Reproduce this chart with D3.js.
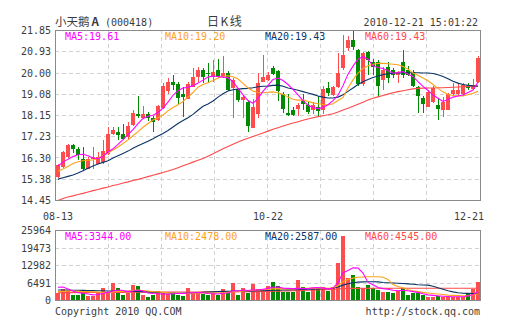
<!DOCTYPE html>
<html>
<head>
<meta charset="utf-8">
<script src="https://cdn.jsdelivr.net/npm/d3@7"></script>
<style>
  body { margin: 0; background: #fff; }
  svg { display: block; }
</style>
</head>
<body>
<svg id="chart" width="505" height="330"></svg>
<script>
// ---- trading days (2010-08-13 .. 2010-12-21) ----
const dates = [
  "08-13","08-16","08-17","08-18","08-19","08-20","08-23","08-24","08-25","08-26",
  "08-27","08-30","08-31","09-01","09-02","09-03","09-06","09-07","09-08","09-09",
  "09-10","09-13","09-14","09-15","09-16","09-17","09-20","09-21","09-27","09-28",
  "09-29","09-30","10-08","10-11","10-12","10-13","10-14","10-15","10-18","10-19",
  "10-20","10-21","10-22","10-25","10-26","10-27","10-28","10-29","11-01","11-02",
  "11-03","11-04","11-05","11-08","11-09","11-10","11-11","11-12","11-15","11-16",
  "11-17","11-18","11-19","11-22","11-23","11-24","11-25","11-26","11-29","11-30",
  "12-01","12-02","12-03","12-06","12-07","12-08","12-09","12-10","12-13","12-14",
  "12-15","12-16","12-17","12-20","12-21"
];

// ---- daily prices ----
const open = [
  15.47,15.92,16.34,16.85,16.71,16.27,15.83,16.27,16.05,16.12,
  16.49,17.36,17.43,17.36,17.20,17.73,18.20,18.02,18.21,18.06,
  17.94,18.47,19.20,19.62,19.50,19.07,18.89,19.40,19.84,20.13,
  20.02,19.84,20.13,19.88,19.99,19.33,19.30,18.82,18.75,17.62,
  18.20,19.62,19.69,20.20,20.10,19.10,18.27,18.38,18.42,18.78,
  18.62,18.38,18.53,18.38,19.36,19.03,19.38,20.20,21.10,21.44,
  21.00,19.52,20.90,20.49,20.50,19.69,20.27,20.13,19.91,20.49,
  20.13,20.06,19.40,18.93,18.53,18.75,18.60,18.38,18.41,19.08,
  19.08,19.08,19.43,19.29,19.62
];
const high = [
  16.02,16.60,16.93,16.93,16.78,16.78,16.34,16.78,16.56,17.10,
  17.65,17.65,17.65,17.80,17.85,18.38,19.00,18.56,18.30,18.15,
  18.60,19.55,19.80,19.90,19.60,19.40,19.60,20.23,20.27,20.20,
  20.42,20.57,20.60,20.73,20.10,19.80,19.35,19.05,18.82,18.85,
  19.99,20.78,20.05,20.30,20.13,19.18,19.08,18.50,18.68,19.10,
  18.72,18.75,19.00,19.45,19.60,19.45,20.86,21.66,21.60,21.85,
  21.05,20.93,20.95,20.60,20.55,20.27,20.50,20.20,20.10,21.00,
  20.30,20.13,19.45,19.00,19.25,19.45,18.90,18.96,19.12,19.55,
  19.57,19.55,19.55,19.75,20.75
];
const low = [
  15.41,15.88,16.30,16.50,16.20,15.76,15.80,15.80,16.05,16.05,
  16.45,17.30,17.07,17.10,17.10,17.70,18.02,17.98,17.90,17.43,
  17.90,18.45,19.10,19.26,18.67,18.09,18.85,19.38,19.60,19.55,
  19.62,19.60,19.80,19.80,19.20,18.05,18.75,18.05,17.43,17.60,
  18.06,19.60,19.65,19.90,18.80,18.24,18.15,18.15,18.15,18.40,
  18.20,18.20,18.15,18.20,18.98,18.98,19.36,20.15,20.95,21.00,
  19.45,19.45,19.91,19.90,18.96,19.26,19.55,19.80,19.55,19.80,
  19.85,19.40,18.27,18.24,18.50,18.70,17.97,18.09,18.38,19.00,
  19.00,19.00,19.25,19.25,19.55
];
const close = [
  15.98,16.54,16.85,16.71,16.41,15.83,16.27,16.34,16.34,16.60,
  17.36,17.53,17.29,17.14,17.70,18.24,18.13,18.21,18.02,17.87,
  18.56,19.45,19.62,19.47,18.92,18.96,19.50,19.84,20.13,19.84,
  19.96,20.06,19.84,20.00,19.26,19.70,18.82,18.96,17.70,18.53,
  19.55,19.84,19.91,19.96,19.20,18.45,18.18,18.18,18.60,18.66,
  18.30,18.60,18.33,19.31,19.11,19.40,20.00,20.80,21.44,21.15,
  19.52,20.85,20.57,20.25,19.45,20.13,19.77,19.91,20.06,19.91,
  19.91,19.43,18.99,18.67,19.18,19.33,18.45,18.75,19.08,19.26,
  19.26,19.47,19.33,19.47,20.64
];

// ---- price moving averages ----
const ma5 = [
  15.95,16.12,16.25,16.36,16.44,16.46,16.40,16.30,16.27,16.38,
  16.56,16.70,16.89,17.10,17.32,17.54,17.80,18.02,18.12,18.16,
  18.28,18.47,18.73,19.03,19.23,19.35,19.38,19.45,19.56,19.69,
  19.82,19.87,19.85,19.82,19.79,19.62,19.33,19.05,18.80,18.68,
  18.90,19.20,19.46,19.72,19.78,19.67,19.50,19.29,19.05,18.80,
  18.60,18.50,18.45,18.50,18.62,18.80,19.03,19.45,19.95,20.30,
  20.60,20.71,20.60,20.30,20.24,20.20,20.10,19.99,20.02,20.06,
  19.95,19.85,19.62,19.42,19.24,19.04,18.90,18.76,18.85,18.95,
  19.00,19.04,19.15,19.26,19.61
];
const ma10 = [
  15.72,15.82,15.93,16.06,16.14,16.18,16.20,16.22,16.29,16.40,
  16.52,16.65,16.78,16.93,17.09,17.27,17.45,17.64,17.80,17.95,
  18.05,18.17,18.35,18.50,18.62,18.76,18.95,19.15,19.38,19.50,
  19.58,19.67,19.78,19.85,19.88,19.84,19.74,19.55,19.35,19.22,
  19.15,19.14,19.16,19.18,19.14,19.07,18.95,18.86,18.82,18.82,
  18.77,18.70,18.66,18.63,18.61,18.66,18.80,18.94,19.35,19.70,
  20.00,20.20,20.32,20.38,20.42,20.42,20.40,20.38,20.36,20.28,
  20.17,20.00,19.90,19.78,19.66,19.50,19.33,19.18,19.06,19.02,
  19.00,19.00,19.05,19.12,19.20
];
const ma20 = [
  15.38,15.44,15.50,15.56,15.65,15.75,15.85,15.95,16.04,16.11,
  16.18,16.30,16.40,16.50,16.60,16.72,16.83,16.93,17.03,17.14,
  17.26,17.37,17.50,17.65,17.80,17.93,18.05,18.20,18.38,18.55,
  18.65,18.78,18.95,19.10,19.22,19.27,19.30,19.32,19.33,19.36,
  19.40,19.42,19.43,19.46,19.47,19.42,19.35,19.30,19.25,19.19,
  19.13,19.07,19.00,18.95,18.91,18.91,18.95,19.05,19.20,19.35,
  19.50,19.62,19.72,19.80,19.87,19.93,19.97,19.99,20.00,20.01,
  20.01,20.01,20.01,20.00,20.00,19.98,19.92,19.85,19.75,19.64,
  19.56,19.50,19.46,19.44,19.43
];
const ma60 = [
  14.45,14.54,14.60,14.65,14.71,14.76,14.82,14.88,14.93,14.99,
  15.04,15.10,15.15,15.21,15.26,15.32,15.37,15.43,15.49,15.55,
  15.61,15.67,15.73,15.80,15.88,15.96,16.04,16.12,16.20,16.28,
  16.38,16.48,16.59,16.70,16.80,16.90,17.00,17.08,17.16,17.24,
  17.31,17.39,17.47,17.55,17.62,17.69,17.76,17.82,17.88,17.94,
  18.00,18.05,18.10,18.14,18.18,18.23,18.30,18.39,18.47,18.55,
  18.64,18.73,18.82,18.90,18.96,19.02,19.08,19.14,19.19,19.23,
  19.27,19.31,19.33,19.34,19.35,19.35,19.36,19.36,19.37,19.38,
  19.39,19.40,19.41,19.42,19.43
];

// ---- daily volume (hands) ----
const volume = [
  2660,4140,3500,2030,2030,2890,1780,1780,2660,4510,
  2660,6360,4510,2030,2660,5620,5370,2030,1410,2030,
  3500,2660,2400,2400,2030,1660,4510,2660,2660,2400,
  2030,2660,2030,4140,2660,6590,2030,4510,2890,6100,
  4140,3260,5370,6960,5370,3260,3260,3260,7580,4880,
  3260,4510,4510,5110,3630,5110,13760,23870,8500,9430,
  5110,4510,5740,4510,3880,3260,3260,2660,3500,4510,
  2030,2660,2660,2030,1410,1410,1660,1410,1410,1410,
  1410,1180,2890,4140,6960
];
const vma5 = [
  4900,5000,4300,3500,2900,2700,2400,2100,2200,2600,
  3000,3500,3900,3700,3300,3500,3900,3500,2800,2600,
  2500,2400,2300,2500,2600,2600,2800,2900,2900,2900,
  2600,2500,2400,2700,2800,3600,3500,3900,3700,4000,
  3900,4200,4500,4900,5000,4600,4500,4400,4500,4400,
  4400,4700,4800,4600,4300,4600,6600,10300,11100,12100,
  12000,10200,6700,5800,4800,4400,4200,3800,3600,3800,
  3600,3300,3000,2500,2100,1900,1700,1600,1500,1400,
  1400,1400,1700,2200,3344
];
const vma10 = [
  3300,3400,3500,3500,3400,3300,3300,3200,3100,3000,
  2900,3200,3400,3400,3500,3700,3900,3700,3500,3300,
  3200,3000,2900,2800,2700,2600,2700,2700,2700,2800,
  2800,2800,2800,2900,3000,3300,3300,3500,3600,3800,
  3900,4000,4100,4300,4400,4300,4300,4300,4400,4500,
  4500,4600,4600,4600,4500,4700,5500,7000,7800,8300,
  8600,8700,8800,8800,8800,8600,7800,5900,5200,4700,
  4000,3600,3300,3000,2800,2600,2400,2200,2000,1900,
  1800,1700,1800,2100,2478
];
const vma20 = [
  3900,3900,3850,3800,3800,3750,3700,3650,3600,3600,
  3550,3500,3500,3450,3400,3400,3350,3300,3200,3100,
  3000,2900,2800,2750,2700,2700,2750,2800,2900,3000,
  3100,3200,3300,3400,3450,3500,3500,3500,3500,3550,
  3600,3650,3700,3800,3850,3900,3950,4000,4050,4100,
  4150,4200,4300,4400,4450,4550,5000,5700,6200,6600,
  6800,6900,6950,6950,6900,6700,6600,6500,6400,6300,
  6150,6000,5850,5750,5700,5300,4700,4200,3600,3200,
  2900,2700,2650,2600,2587
];
const vma60 = [
  2900,2905,2920,2925,2940,2950,2955,2970,2980,2985,
  3000,3010,3015,3030,3040,3045,3060,3070,3075,3090,
  3100,3110,3115,3130,3140,3150,3155,3170,3180,3190,
  3200,3205,3220,3230,3235,3250,3260,3265,3280,3290,
  3300,3340,3385,3420,3460,3500,3560,3615,3680,3740,
  3800,3860,3915,3980,4040,4100,4250,4400,4450,4500,
  4510,4520,4515,4520,4525,4520,4515,4520,4525,4520,
  4530,4525,4530,4535,4530,4540,4535,4540,4540,4545,
  4540,4545,4545,4545,4545
];

// ---- axis ticks and legends ----
const priceTicks = ["14.45","15.38","16.30","17.23","18.15","19.08","20.00","20.93","21.85"];
const volumeTicks = ["0","6491","12982","19473","25964"];
const dateTicks = ["08-13","10-22","12-21"];
const maNames = ["MA5","MA10","MA20","MA60"];
const priceMaLast = ["19.61","19.20","19.43","19.43"];
const volumeMaLast = ["3344.00","2478.00","2587.00","4545.00"];

// ---- styling ----
const MONO = "'DejaVu Sans Mono', 'Liberation Mono', monospace";
const CJK = "'Noto Sans CJK SC', 'Noto Sans', sans-serif";
const TEXT = "#3c3c3c";
const FRAME = "#8a8a8a";
const GRID = "#d2d2d2";
const UP = "#ff4d4d";
const DOWN = "#008a00";
const maColors = ["#ff00ff", "#ffa21a", "#0b3466", "#ff4a4a"];

const svg = d3.select("#chart");
svg.append("rect").attr("width", 505).attr("height", 330).attr("fill", "#fff");

const L = 55, R = 480;
const P = { top: 30, bottom: 200 };
const V = { top: 230, bottom: 300 };

const x = d3.scaleBand().domain(dates).range([L, R]).padding(0);
const cx = d => x(d) + 3;
const yP = d3.scaleLinear().domain([+priceTicks[0], +priceTicks[priceTicks.length - 1]]).range([P.bottom + 0.5, P.top + 0.5]);
const yV = d3.scaleLinear().domain([0, +volumeTicks[volumeTicks.length - 1]]).range([V.bottom + 0.5, V.top + 0.5]);

const crisp = v => Math.round(v - 0.5) + 0.5;

// ---- header ----
const head = svg.append("g").attr("fill", TEXT);
const title = head.append("text").attr("x", L).attr("y", 25.5)
  .attr("font-family", CJK).attr("font-size", 11.5);
title.append("tspan").text("小天鹅");
title.append("tspan").attr("font-weight", "bold").attr("dx", 2).text("A");
head.append("text").attr("x", 105).attr("y", 25.5).attr("font-family", MONO)
  .attr("font-size", 10).text("(000418)");
head.append("text").attr("x", 207).attr("y", 25.5).attr("font-family", CJK)
  .attr("font-size", 12).attr("letter-spacing", 1.5).text("日K线");
head.append("text").attr("x", 478).attr("y", 25.5).attr("text-anchor", "end")
  .attr("font-family", MONO).attr("font-size", 10).text("2010-12-21 15:01:22");

// ---- panel frames and grids ----
function panel(top, bottom, ticks, scale) {
  const g = svg.append("g");
  const grid = g.append("g").attr("stroke", GRID).attr("stroke-width", 1)
    .attr("stroke-dasharray", "4,3").attr("shape-rendering", "crispEdges");
  ticks.slice(1, -1).forEach(t => {
    const yy = crisp(scale(+t));
    grid.append("line").attr("x1", L).attr("x2", R).attr("y1", yy).attr("y2", yy);
  });
  for (let k = 1; k < 8; k++) {
    const xx = crisp(L + k * (R - L) / 8);
    grid.append("line").attr("x1", xx).attr("x2", xx).attr("y1", top).attr("y2", bottom);
  }
  g.append("g").attr("fill", TEXT).attr("font-family", MONO).attr("font-size", 10)
    .attr("text-anchor", "end")
    .selectAll("text").data(ticks).join("text")
    .attr("x", 51).attr("y", t => scale(+t)).attr("dy", "0.36em").text(t => t);
  return g;
}
panel(P.top, P.bottom, priceTicks, yP);
panel(V.top, V.bottom, volumeTicks, yV);

// ---- candlesticks ----
const candles = svg.append("g").attr("shape-rendering", "crispEdges");
dates.forEach((d, i) => {
  const col = close[i] >= open[i] ? UP : DOWN;
  const xb = x(d);
  candles.append("rect").attr("x", xb + 2.5).attr("width", 1)
    .attr("y", yP(high[i])).attr("height", Math.max(1, yP(low[i]) - yP(high[i])))
    .attr("fill", col);
  const top = yP(Math.max(open[i], close[i]));
  const bot = yP(Math.min(open[i], close[i]));
  candles.append("rect").attr("x", xb + 1).attr("width", 4)
    .attr("y", top).attr("height", Math.max(1, bot - top)).attr("fill", col);
});

// ---- volume bars ----
const bars = svg.append("g").attr("shape-rendering", "crispEdges");
dates.forEach((d, i) => {
  bars.append("rect").attr("x", x(d) + 1).attr("width", 4)
    .attr("y", yV(volume[i])).attr("height", yV(0) - yV(volume[i]))
    .attr("fill", close[i] >= open[i] ? UP : DOWN);
});

// ---- moving-average lines ----
function maLine(values, scale, color) {
  const line = d3.line().x((v, i) => cx(dates[i])).y(v => scale(v));
  svg.append("path").attr("d", line(values)).attr("fill", "none")
    .attr("stroke", color).attr("stroke-width", 1.1);
}
[ma60, ma20, ma10, ma5].forEach((s, k) => maLine(s, yP, maColors[3 - k]));
[vma60, vma20, vma10, vma5].forEach((s, k) => maLine(s, yV, maColors[3 - k]));

// ---- frames on top ----
[[P.top, P.bottom], [V.top, V.bottom]].forEach(([t, b]) => {
  svg.append("rect").attr("x", L + 0.5).attr("y", t + 0.5)
    .attr("width", R - L).attr("height", b - t)
    .attr("fill", "none").attr("stroke", FRAME).attr("stroke-width", 1)
    .attr("shape-rendering", "crispEdges");
});

// ---- legends ----
function legend(yBase, vals) {
  svg.append("g").attr("font-family", MONO).attr("font-size", 10)
    .selectAll("text").data(maNames).join("text")
    .attr("x", (n, k) => 65 + k * 100).attr("y", yBase)
    .attr("fill", (n, k) => maColors[k])
    .text((n, k) => n + ":" + vals[k]);
}
legend(40, priceMaLast);
legend(240, volumeMaLast);

// ---- date axis ----
svg.append("g").attr("font-family", MONO).attr("font-size", 10).attr("fill", TEXT)
  .selectAll("text").data(dateTicks).join("text")
  .attr("x", d => Math.min(cx(d), R - 11))
  .attr("y", 220).attr("text-anchor", "middle").text(d => d);

// ---- footer ----
svg.append("text").attr("x", L).attr("y", 315).attr("font-family", MONO)
  .attr("font-size", 10).attr("fill", TEXT).text("Copyright 2010 QQ.COM");
svg.append("text").attr("x", R).attr("y", 315).attr("text-anchor", "end")
  .attr("font-family", MONO).attr("font-size", 10).attr("fill", TEXT)
  .text("http://stock.qq.com");
</script>
</body>
</html>
